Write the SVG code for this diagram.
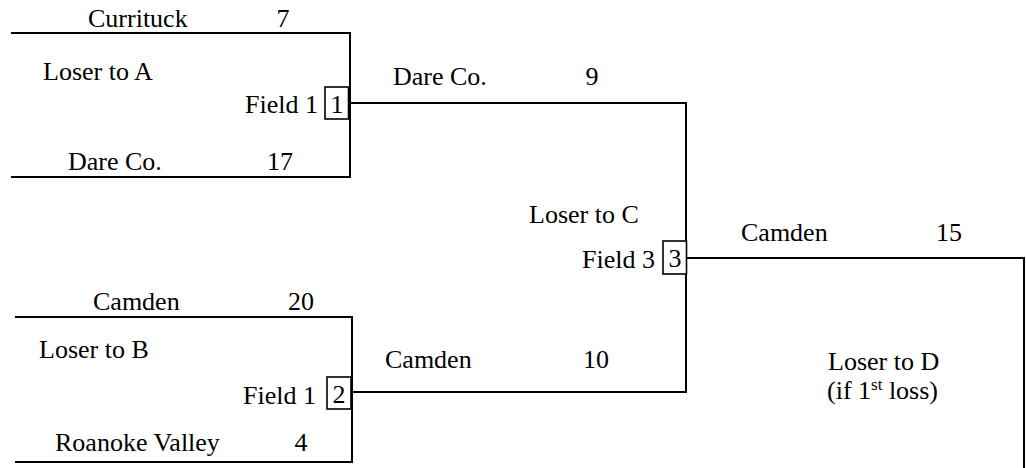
<svg xmlns="http://www.w3.org/2000/svg" width="1026" height="468" viewBox="0 0 1026 468" font-family="Liberation Serif, Times New Roman, DejaVu Serif, serif" font-size="26">
<style>
text{fill:#000}
.n{text-anchor:middle}
.ln{fill:none;stroke:#000;stroke-width:2}
.bx{fill:#fff;stroke:#000;stroke-width:1.6}
</style>
<rect width="1026" height="468" fill="#fff"/>
<g id="connectors">
<polyline class="ln" points="11,33 350,33 350,177 11,177"/>
<polyline class="ln" points="15,317 352,317 352,462 15,462"/>
<polyline class="ln" points="349,103 686,103 686,392 352,392"/>
<polyline class="ln" points="687,258 1024,258 1024,468"/>
</g>
<g id="game1">
<text x="88" y="27">Currituck</text>
<text class="n" x="283" y="27">7</text>
<text x="43" y="80">Loser to A</text>
<text x="245" y="113">Field 1</text>
<rect class="bx" x="325" y="87" width="23.5" height="32"/>
<text class="n" x="337" y="113">1</text>
<text x="68" y="170">Dare Co.</text>
<text class="n" x="280" y="170">17</text>
</g>
<g id="game2">
<text x="93" y="310">Camden</text>
<text class="n" x="301" y="310">20</text>
<text x="39" y="358">Loser to B</text>
<text x="243" y="404">Field 1</text>
<rect class="bx" x="327" y="377" width="24" height="32"/>
<text class="n" x="339" y="403">2</text>
<text x="55" y="451">Roanoke Valley</text>
<text class="n" x="301" y="451">4</text>
</g>
<g id="game3">
<text x="393" y="85">Dare Co.</text>
<text class="n" x="592" y="85">9</text>
<text x="529" y="223">Loser to C</text>
<text x="582" y="268">Field 3</text>
<rect class="bx" x="663" y="241" width="23.5" height="33"/>
<text class="n" x="675" y="267">3</text>
<text x="385" y="368">Camden</text>
<text class="n" x="596" y="368">10</text>
</g>
<g id="final">
<text x="741" y="241">Camden</text>
<text class="n" x="949" y="241">15</text>
<text x="828" y="370">Loser to D</text>
<text x="827" y="399">(if 1<tspan font-size="17" dy="-9">st</tspan><tspan dy="9"> loss)</tspan></text>
</g>
</svg>
